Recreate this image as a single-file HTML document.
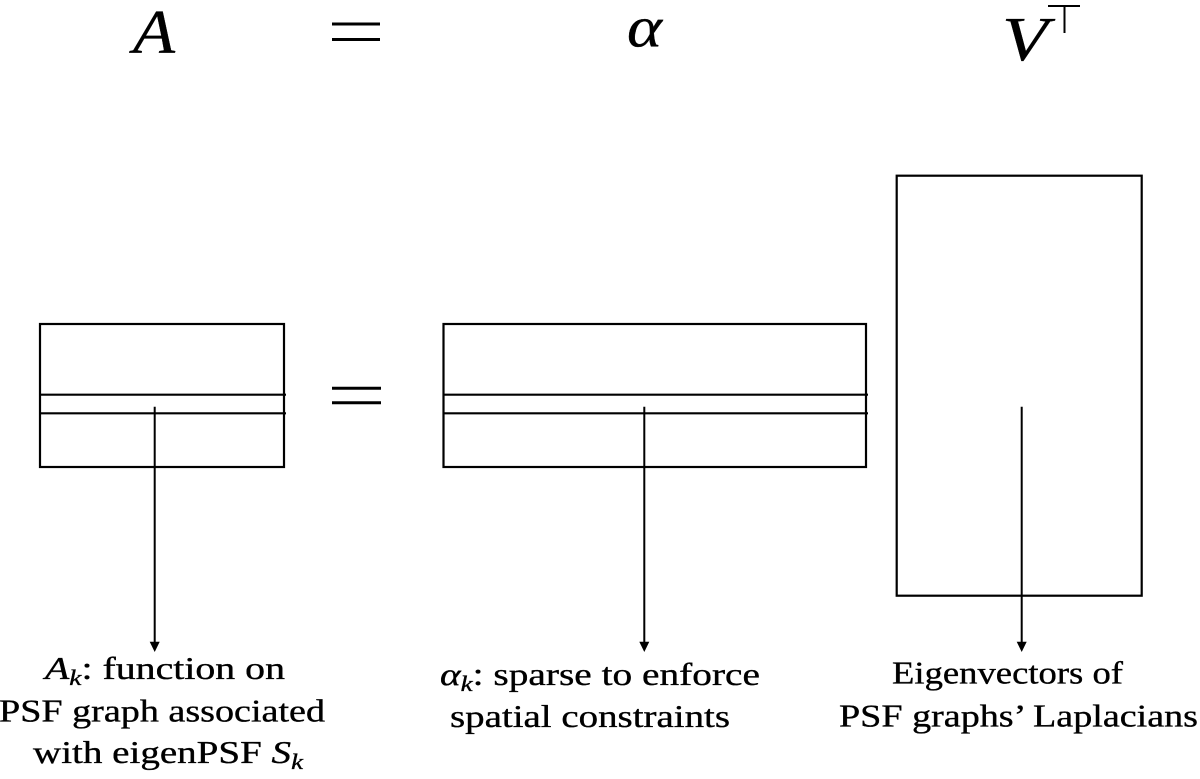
<!DOCTYPE html>
<html>
<head>
<meta charset="utf-8">
<style>
  html, body { margin: 0; padding: 0; background: #fff; }
  svg { display: block; }
  text { font-family: "Liberation Serif", "DejaVu Serif", serif; fill: #000; stroke: #000; stroke-width: 0.35; }
  .it { font-style: italic; }
</style>
</head>
<body>
<svg width="1200" height="779" viewBox="0 0 1200 779" xmlns="http://www.w3.org/2000/svg">
  <rect x="0" y="0" width="1200" height="779" fill="#fff"/>

  <!-- Top equation -->
  <text class="it" x="133" y="53" font-size="62" textLength="42" lengthAdjust="spacingAndGlyphs">A</text>
  <line x1="332" y1="24" x2="380" y2="24" stroke="#000" stroke-width="3"/>
  <line x1="332" y1="39.5" x2="380" y2="39.5" stroke="#000" stroke-width="3"/>
  <text class="it" x="627" y="46.5" font-size="58" textLength="35" lengthAdjust="spacingAndGlyphs">α</text>
  <text class="it" x="1002" y="60" font-size="62" textLength="46" lengthAdjust="spacingAndGlyphs">V</text>
  <line x1="1048" y1="6" x2="1080" y2="6" stroke="#000" stroke-width="2"/>
  <line x1="1064.5" y1="6" x2="1064.5" y2="33" stroke="#000" stroke-width="2"/>

  <!-- Box 1 -->
  <g stroke="#000" stroke-width="2.2" fill="none">
    <rect x="40" y="324" width="244" height="143"/>
    <line x1="40" y1="394.7" x2="286" y2="394.7"/>
    <line x1="40" y1="413.3" x2="286" y2="413.3"/>
  </g>

  <!-- Middle equals -->
  <line x1="332" y1="388.3" x2="381" y2="388.3" stroke="#000" stroke-width="3"/>
  <line x1="332" y1="402.7" x2="381" y2="402.7" stroke="#000" stroke-width="3"/>

  <!-- Box 2 -->
  <g stroke="#000" stroke-width="2.2" fill="none">
    <rect x="443.5" y="324" width="422.5" height="143"/>
    <line x1="443.5" y1="394.7" x2="868" y2="394.7"/>
    <line x1="443.5" y1="413.3" x2="868" y2="413.3"/>
  </g>

  <!-- Box 3 -->
  <rect x="896.7" y="175.7" width="245" height="420" stroke="#000" stroke-width="2.2" fill="none"/>

  <!-- Arrows -->
  <g stroke="#000" stroke-width="2">
    <line x1="154.7" y1="406.7" x2="154.7" y2="643"/>
    <line x1="644.3" y1="406.7" x2="644.3" y2="643"/>
    <line x1="1021.7" y1="406.7" x2="1021.7" y2="643"/>
  </g>
  <g fill="#000">
    <polygon points="149.7,641.7 159.7,641.7 154.7,652"/>
    <polygon points="639.3,641.7 649.3,641.7 644.3,652"/>
    <polygon points="1016.7,641.7 1026.7,641.7 1021.7,652"/>
  </g>

  <!-- Labels box 1 -->
  <text x="45" y="679" font-size="32" textLength="240" lengthAdjust="spacingAndGlyphs"><tspan class="it">A</tspan><tspan class="it" font-size="22" dy="6">k</tspan><tspan dy="-6">: function on</tspan></text>
  <text x="-1" y="721.7" font-size="32" textLength="326" lengthAdjust="spacingAndGlyphs">PSF graph associated</text>
  <text x="33" y="763" font-size="32" textLength="270" lengthAdjust="spacingAndGlyphs">with eigenPSF <tspan class="it">S</tspan><tspan class="it" font-size="22" dy="6">k</tspan></text>

  <!-- Labels box 2 -->
  <text x="440" y="685" font-size="32" textLength="320" lengthAdjust="spacingAndGlyphs"><tspan class="it">α</tspan><tspan class="it" font-size="22" dy="6">k</tspan><tspan dy="-6">: sparse to enforce</tspan></text>
  <text x="450" y="727" font-size="32" textLength="280" lengthAdjust="spacingAndGlyphs">spatial constraints</text>

  <!-- Labels box 3 -->
  <text x="892" y="683.3" font-size="32" textLength="231" lengthAdjust="spacingAndGlyphs">Eigenvectors of</text>
  <text x="839" y="726.7" font-size="32" textLength="359" lengthAdjust="spacingAndGlyphs">PSF graphs’ Laplacians</text>
</svg>
</body>
</html>
